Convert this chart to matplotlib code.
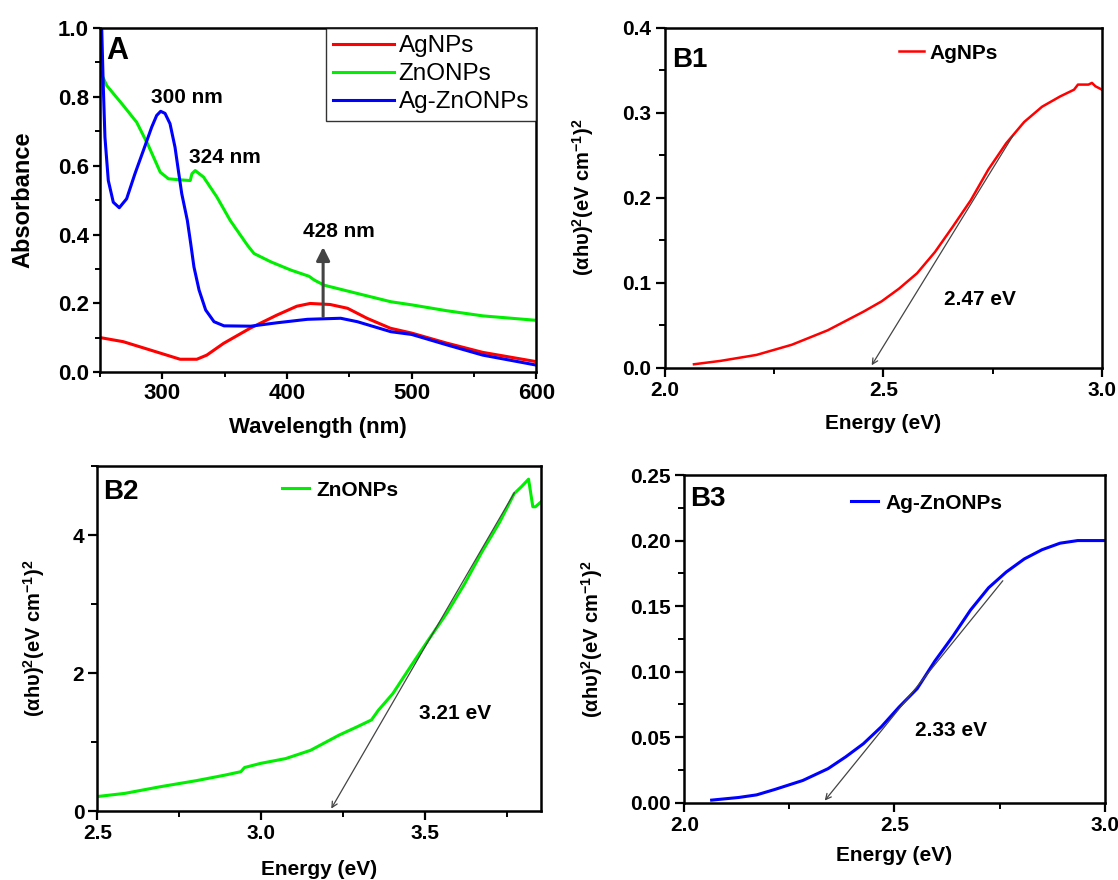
import numpy as np
import matplotlib
matplotlib.use('Agg')
import matplotlib.pyplot as plt
from matplotlib.ticker import MultipleLocator, FormatStrFormatter

plt.rcParams['font.family'] = ['Liberation Sans', 'DejaVu Sans']
plt.rcParams['font.weight'] = 'bold'
plt.rcParams['axes.labelweight'] = 'bold'
plt.rcParams['mathtext.default'] = 'regular'
plt.rcParams['axes.linewidth'] = 1.8

# ---- panel A: UV-vis absorbance
wl_ag = [250, 268.7, 290.2, 314.3, 327.7, 335.7, 349.1, 370.4, 391.8, 407.9, 418.6,
         434.6, 448.6, 464.2, 483.0, 500, 528, 557, 600]
abs_ag = [0.101, 0.089, 0.065, 0.038, 0.038, 0.050, 0.084, 0.128, 0.166, 0.192, 0.200,
          0.197, 0.186, 0.157, 0.128, 0.114, 0.085, 0.058, 0.031]

wl_zn = [250, 255.4, 268.7, 279.5, 288.8, 298.4, 305.0, 314.4, 322.4, 323.8, 326.4,
         333.1, 343.8, 354.5, 368.3, 373.6, 387.0, 403.1, 417.7, 421.9, 429.9, 456.5,
         483.3, 500, 528, 557, 600]
abs_zn = [0.876, 0.833, 0.775, 0.726, 0.659, 0.581, 0.562, 0.559, 0.557, 0.577, 0.586,
          0.567, 0.509, 0.441, 0.369, 0.345, 0.321, 0.297, 0.279, 0.268, 0.253, 0.229,
          0.205, 0.196, 0.179, 0.164, 0.151]

wl_agzn = [251.4, 252.7, 254.0, 256.7, 260.7, 265.5, 271.4, 278.1, 284.8, 291.5, 295.5,
           298.7, 302.2, 306.2, 310.2, 312.9, 315.6, 320.1, 322.8, 325.4, 329.5,
           334.8, 341.5, 349.5, 370.9, 392.3, 416.5, 443.1, 456.5, 483.3, 500, 528, 557, 600]
abs_agzn = [1.0, 0.828, 0.683, 0.557, 0.494, 0.478, 0.504, 0.577, 0.644, 0.712, 0.746,
            0.758, 0.752, 0.722, 0.654, 0.586, 0.519, 0.441, 0.374, 0.306, 0.239,
            0.181, 0.147, 0.135, 0.134, 0.144, 0.154, 0.157, 0.147, 0.118, 0.110, 0.080,
            0.050, 0.021]

# ---- panel B1: AgNPs Tauc plot
e_ag = [2.067, 2.128, 2.21, 2.291, 2.373, 2.455, 2.496, 2.536, 2.577, 2.618, 2.659,
        2.70, 2.74, 2.781, 2.822, 2.863, 2.904, 2.936, 2.945, 2.969, 2.977, 2.985, 3.0]
t_ag = [0.004, 0.008, 0.015, 0.027, 0.044, 0.066, 0.078, 0.093, 0.111, 0.136, 0.166,
        0.197, 0.233, 0.264, 0.289, 0.307, 0.319, 0.327, 0.333, 0.333, 0.335, 0.331, 0.327]
fit_ag = ([2.47, 2.80], [0.0, 0.276])

# ---- panel B2: ZnONPs Tauc plot
e_zn = [2.5, 2.584, 2.693, 2.802, 2.889, 2.938, 2.949, 2.998, 3.075, 3.151, 3.238,
        3.293, 3.337, 3.358, 3.402, 3.456, 3.511, 3.566, 3.62, 3.675, 3.729, 3.773,
        3.795, 3.817, 3.83, 3.838, 3.855]
t_zn = [0.21, 0.256, 0.353, 0.44, 0.52, 0.57, 0.63, 0.69, 0.76, 0.88, 1.10, 1.22, 1.32,
        1.46, 1.70, 2.09, 2.48, 2.86, 3.28, 3.76, 4.19, 4.60, 4.70, 4.81, 4.41, 4.41, 4.48]
fit_zn = ([3.21, 3.778], [0.0, 4.65])

# ---- panel B3: Ag-ZnONPs Tauc plot
e_agzn = [2.065, 2.129, 2.172, 2.214, 2.282, 2.342, 2.384, 2.426, 2.469, 2.511, 2.554,
          2.596, 2.639, 2.681, 2.724, 2.766, 2.809, 2.851, 2.894, 2.936, 3.0]
t_agzn = [0.002, 0.004, 0.006, 0.010, 0.017, 0.026, 0.035, 0.045, 0.058, 0.073, 0.087,
          0.108, 0.127, 0.147, 0.164, 0.176, 0.186, 0.193, 0.198, 0.200, 0.200]
fit_agzn = ([2.33, 2.762], [0.0, 0.171])

red, green, blue = '#ff0000', '#00ee00', '#0000ff'
ylab = '(αhυ)$^{2}$(eV cm$^{-1}$)$^{2}$'

fig = plt.figure(figsize=(11.18, 8.8), dpi=100)
axA = fig.add_axes([0.0894, 0.5769, 0.3903, 0.3913])
axB1 = fig.add_axes([0.5945, 0.5822, 0.3912, 0.3864])
axB2 = fig.add_axes([0.0872, 0.0784, 0.3967, 0.392])
axB3 = fig.add_axes([0.6121, 0.0878, 0.3759, 0.3724])


def style(ax, fs, maj, mnr):
    ax.tick_params(which='major', direction='out', length=maj, width=1.6, labelsize=fs, pad=3)
    ax.tick_params(which='minor', direction='out', length=mnr, width=1.4)


def labels(ax, xl, yl, xfs, yfs, xy, yx):
    ax.set_xlabel(xl, fontsize=xfs)
    ax.set_ylabel(yl, fontsize=yfs)
    ax.xaxis.label.set_va('center')
    ax.yaxis.label.set_va('center')
    ax.xaxis.set_label_coords(0.5, xy)
    ax.yaxis.set_label_coords(yx, 0.5)


# A
axA.plot(wl_ag, abs_ag, color=red, lw=2.2, label='AgNPs')
axA.plot(wl_zn, abs_zn, color=green, lw=2.2, label='ZnONPs')
axA.plot(wl_agzn, abs_agzn, color=blue, lw=2.2, label='Ag-ZnONPs')
axA.set_xlim(250, 600)
axA.set_ylim(0, 1.0)
axA.xaxis.set_major_locator(MultipleLocator(100))
axA.xaxis.set_minor_locator(MultipleLocator(50))
axA.yaxis.set_major_locator(MultipleLocator(0.2))
axA.yaxis.set_minor_locator(MultipleLocator(0.1))
axA.yaxis.set_major_formatter(FormatStrFormatter('%.1f'))
style(axA, 16, 5, 3.5)
labels(axA, 'Wavelength (nm)', 'Absorbance', 16, 17, -0.159, -0.177)
leg = axA.legend(loc='upper right', handlelength=2.5, handletextpad=0.2, borderaxespad=0,
                 fancybox=False, edgecolor='black', labelspacing=0.25, borderpad=0.3,
                 prop={'weight': 'normal', 'size': 17.5})
leg.get_frame().set_linewidth(1.0)
axA.text(255.4, 0.932, 'A', fontsize=22, va='center', ha='left')
axA.text(320, 0.797, '300 nm', fontsize=15, ha='center', va='center')
axA.text(350, 0.625, '324 nm', fontsize=15, ha='center', va='center')
axA.text(442, 0.41, '428 nm', fontsize=15, ha='center', va='center')
axA.annotate('', xy=(429, 0.372), xytext=(429, 0.154),
             arrowprops=dict(arrowstyle='-|>', color='#444444', lw=2.2, mutation_scale=20))

# B1
axB1.plot(e_ag, t_ag, color=red, lw=1.8, label='AgNPs')
axB1.annotate('', xy=(fit_ag[0][0], fit_ag[1][0]), xytext=(fit_ag[0][1], fit_ag[1][1]),
              arrowprops=dict(arrowstyle='->', color='#444444', lw=0.9))
axB1.set_xlim(2.0, 3.0)
axB1.set_ylim(0, 0.4)
axB1.xaxis.set_major_locator(MultipleLocator(0.5))
axB1.xaxis.set_minor_locator(MultipleLocator(0.25))
axB1.yaxis.set_major_locator(MultipleLocator(0.1))
axB1.yaxis.set_minor_locator(MultipleLocator(0.05))
axB1.xaxis.set_major_formatter(FormatStrFormatter('%.1f'))
axB1.yaxis.set_major_formatter(FormatStrFormatter('%.1f'))
style(axB1, 15, 6.5, 4.5)
labels(axB1, 'Energy (eV)', ylab, 15, 14.5, -0.163, -0.187)
axB1.text(2.018, 0.362, 'B1', fontsize=20, va='center', ha='left')
axB1.text(2.72, 0.08, '2.47 eV', fontsize=15, ha='center', va='center')
axB1.legend(loc='center left', bbox_to_anchor=(0.536, 0.925), frameon=False,
            fontsize=15, handlelength=1.2, handletextpad=0.25, borderaxespad=0, borderpad=0)

# B2
axB2.plot(e_zn, t_zn, color=green, lw=2.2, label='ZnONPs')
axB2.annotate('', xy=(fit_zn[0][0], fit_zn[1][0]), xytext=(fit_zn[0][1], fit_zn[1][1]),
              arrowprops=dict(arrowstyle='->', color='#444444', lw=0.9))
axB2.set_xlim(2.5, 3.855)
axB2.set_ylim(0, 5.0)
axB2.xaxis.set_major_locator(MultipleLocator(0.5))
axB2.xaxis.set_minor_locator(MultipleLocator(0.25))
axB2.yaxis.set_major_locator(MultipleLocator(2))
axB2.yaxis.set_minor_locator(MultipleLocator(1))
axB2.xaxis.set_major_formatter(FormatStrFormatter('%.1f'))
style(axB2, 15, 6.5, 4.5)
labels(axB2, 'Energy (eV)', ylab, 15, 14.5, -0.171, -0.143)
axB2.text(2.5185, 4.63, 'B2', fontsize=20, va='center', ha='left')
axB2.text(3.593, 1.42, '3.21 eV', fontsize=15, ha='center', va='center')
axB2.legend(loc='center left', bbox_to_anchor=(0.416, 0.93), frameon=False,
            fontsize=15, handlelength=1.3, handletextpad=0.35, borderaxespad=0, borderpad=0)

# B3
axB3.plot(e_agzn, t_agzn, color=blue, lw=2.2, label='Ag-ZnONPs')
axB3.annotate('', xy=(fit_agzn[0][0], fit_agzn[1][0]), xytext=(fit_agzn[0][1], fit_agzn[1][1]),
              arrowprops=dict(arrowstyle='->', color='#444444', lw=0.9))
axB3.set_xlim(2.0, 3.0)
axB3.set_ylim(0, 0.25)
axB3.xaxis.set_major_locator(MultipleLocator(0.5))
axB3.xaxis.set_minor_locator(MultipleLocator(0.25))
axB3.yaxis.set_major_locator(MultipleLocator(0.05))
axB3.yaxis.set_minor_locator(MultipleLocator(0.025))
axB3.xaxis.set_major_formatter(FormatStrFormatter('%.1f'))
axB3.yaxis.set_major_formatter(FormatStrFormatter('%.2f'))
style(axB3, 15, 6.5, 4.5)
labels(axB3, 'Energy (eV)', ylab, 15, 14.5, -0.16, -0.22)
axB3.text(2.014, 0.232, 'B3', fontsize=20, va='center', ha='left')
axB3.text(2.635, 0.055, '2.33 eV', fontsize=15, ha='center', va='center')
axB3.legend(loc='center left', bbox_to_anchor=(0.397, 0.914), frameon=False,
            fontsize=15, handlelength=1.3, handletextpad=0.35, borderaxespad=0, borderpad=0)

fig.savefig('out.png', dpi=100)
